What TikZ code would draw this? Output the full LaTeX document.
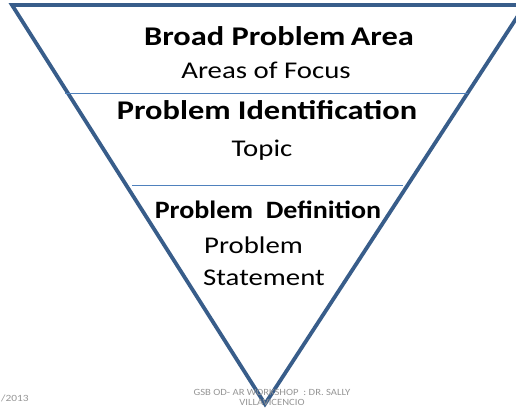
\documentclass[tikz,border=0pt]{standalone}
\usepackage{fontspec}
\setmainfont{Carlito}
\definecolor{funnelblue}{RGB}{56,93,138}
\definecolor{rulerblue}{RGB}{79,129,189}
\definecolor{footgray}{RGB}{150,150,150}
\newcommand{\wide}[2][1.2]{\scalebox{#1}[1]{#2}}
\tikzset{
  funnel/.style={draw=funnelblue,line width=3.8pt,line join=miter},
  divider/.style={draw=rulerblue,line width=0.9pt},
  head/.style={font=\bfseries\fontsize{27}{30}\selectfont,inner sep=0pt,anchor=base},
  sub/.style={font=\fontsize{24}{27}\selectfont,inner sep=0pt,anchor=base},
  foot/.style={font=\fontsize{9.5}{11}\selectfont,text=footgray,inner sep=0pt,anchor=base}
}
\begin{document}
\begin{tikzpicture}[x=1pt,y=-1pt]
			\useasboundingbox (0,0) rectangle (516,407);
			\clip (0,0) rectangle (516,407);
			\fill[white] (0,0) rectangle (516,407);

			\draw[funnel] (12,5) -- (525,5) -- (265,404) -- cycle;
			\draw[divider] (65,93) -- (468,93);
			\draw[divider] (132,185) -- (403,185);

			\node[head] (broad) at (279,45) {\wide{Broad Problem\,Area}};
			\node[sub] (focus) at (266,78) {\wide{Areas of Focus}};
			\node[head] (ident) at (267,119) {\wide{Problem Identification}};
			\node[sub] (topic) at (262,156) {\wide{Topic}};

			\node[head,font=\bfseries\fontsize{25}{28}\selectfont] (defn) at (268,218) {\wide[1.12]{Problem\ \ Definition}};
			\node[sub,anchor=base west] (prob) at (204,253) {\wide{Problem}};
			\node[sub,anchor=base west] (stmt) at (203,285) {\wide{Statement}};

			\node[foot,anchor=base west] (date) at (1,401) {\wide{/2013}};
			\node[foot] (work) at (272,395) {\wide[1.12]{GSB OD- AR WORKSHOP\ \ : DR. SALLY}};
			\node[foot] (villa) at (272,405) {\wide[1.12]{VILLAVICENCIO}};
		\end{tikzpicture}
\end{document}
